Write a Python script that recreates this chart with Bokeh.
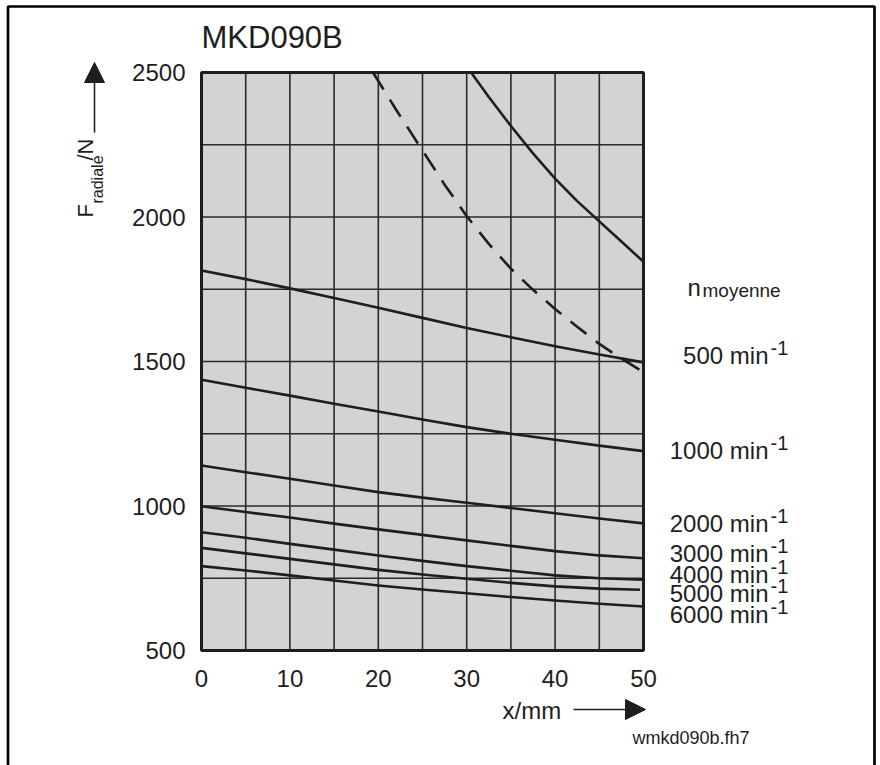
import math
from bokeh.plotting import figure
from bokeh.models import Label, Arrow, NormalHead, BoxAnnotation, FixedTicker, Range1d
from bokeh.embed import file_html
from bokeh.resources import INLINE

# ---------------- data ----------------
x_mm = [0, 5, 10, 15, 20, 25, 30, 35, 40, 45, 50]
f_500 = [1815, 1785, 1753, 1720, 1686, 1651, 1616, 1584, 1553, 1524, 1497]
f_1000 = [1437, 1409, 1382, 1354, 1327, 1299, 1273, 1250, 1229, 1209, 1190]
f_2000 = [1140, 1117, 1094, 1071, 1048, 1029, 1011, 993, 975, 957, 940]
f_3000 = [999, 979, 960, 939, 919, 900, 881, 862, 844, 829, 819]
f_4000 = [909, 890, 869, 849, 829, 810, 792, 776, 760, 750, 745]
x_5000 = [0, 5, 10, 15, 20, 25, 30, 35, 40, 45, 49.6]
f_5000 = [855, 836, 817, 798, 779, 763, 748, 734, 722, 714, 710]
f_6000 = [792, 777, 760, 742, 725, 711, 698, 685, 673, 662, 652]
# shaft limit curves
x_limit = [30.5, 32.5, 35, 37.5, 40, 42.5, 45, 47.5, 50]
f_limit = [2500, 2415, 2315, 2220, 2133, 2055, 1985, 1915, 1845]
x_dash = [19.4, 22, 25, 27.5, 30, 32.5, 35, 37.5, 40, 42.5, 45, 47.5, 50]
f_dash = [2500, 2372, 2230, 2112, 2003, 1907, 1821, 1748, 1682, 1620, 1561, 1510, 1463]

x_min, x_max = 0, 50
y_min, y_max = 500, 2500
x_ticks = [0, 10, 20, 30, 40, 50]
y_ticks = [500, 1000, 1500, 2000, 2500]
x_grid = [5, 10, 15, 20, 25, 30, 35, 40, 45]
y_grid = [750, 1000, 1250, 1500, 1750, 2000, 2250]
speed_labels = ["500 min", "1000 min", "2000 min", "3000 min", "4000 min", "5000 min", "6000 min"]
title_text = "MKD090B"

# ---------------- layout ----------------
W, H = 880, 765
# pixel box of the chart area inside the 880x765 page
PX_L, PX_R, PX_T, PX_B = 201, 643, 72, 650
kx = (x_max - x_min) / (PX_R - PX_L)
ky = (y_max - y_min) / (PX_B - PX_T)
x_range = Range1d(x_min - PX_L * kx, x_max + (W - PX_R) * kx)
y_range = Range1d(y_min - (H - PX_B) * ky, y_max + PX_T * ky)

FONT = "Liberation Sans"
INK = "#1e1e1e"
U = dict(x_units="canvas", y_units="canvas")
DY = -8  # baseline correction for labels

p = figure(width=W, height=H, x_range=x_range, y_range=y_range,
           output_backend="svg", toolbar_location=None, title=None, min_border=0)
p.background_fill_color = "white"
p.border_fill_color = "white"
p.outline_line_color = None
p.grid.visible = False

# grey chart area
p.add_layout(BoxAnnotation(left=x_min, right=x_max, bottom=y_min, top=y_max,
                           fill_color="#d2d3d5", fill_alpha=1, line_color=None, level="image"))

# axes drawn at the chart edges
p.xaxis.fixed_location = y_min
p.yaxis.fixed_location = x_min
for ax in (p.xaxis[0], p.yaxis[0]):
    ax.axis_line_color = None
    ax.major_tick_line_color = None
    ax.minor_tick_line_color = None
    ax.major_tick_in = 0
    ax.major_tick_out = 0
    ax.major_label_text_font = FONT
    ax.major_label_text_font_size = "24px"
    ax.major_label_text_color = INK
p.xaxis.ticker = FixedTicker(ticks=x_ticks)
p.yaxis.ticker = FixedTicker(ticks=y_ticks)
p.xaxis.major_label_standoff = 19
p.yaxis.major_label_standoff = 16

# grid lines inside the chart area
p.segment(x0=x_grid, y0=[y_min] * len(x_grid), x1=x_grid, y1=[y_max] * len(x_grid),
          line_color="#2a2a2a", line_width=1.6)
p.segment(x0=[x_min] * len(y_grid), y0=y_grid, x1=[x_max] * len(y_grid), y1=y_grid,
          line_color="#2a2a2a", line_width=1.6)

for xs, ys in [(x_mm, f_500), (x_mm, f_1000), (x_mm, f_2000), (x_mm, f_3000),
               (x_mm, f_4000), (x_5000, f_5000), (x_mm, f_6000), (x_limit, f_limit)]:
    p.line(xs, ys, line_color=INK, line_width=2.6, line_join="round")
p.line(x_dash, f_dash, line_color=INK, line_width=2.6, line_dash="20 12")

# chart frame
p.add_layout(BoxAnnotation(left=x_min, right=x_max, bottom=y_min, top=y_max,
                           fill_alpha=0, line_color=INK, line_alpha=1, line_width=3))


def lab(txt, x, y, size, align="left", angle=0.0):
    if angle:
        x = x + DY
    else:
        y = y + DY
    p.add_layout(Label(x=x, y=y, text=txt, angle=angle, text_font=FONT, text_font_size=size,
                       text_color=INK, text_align=align, text_baseline="alphabetic", **U))


# title
lab(title_text, 201, 45, "31px")

# y axis label with subscript, rotated
lab("F", 93, 217, "22px", angle=math.pi / 2)
lab("radiale", 105, 203, "16px", angle=math.pi / 2)
lab("/N", 93, 160, "22px", angle=math.pi / 2)
p.add_layout(Arrow(x_start=94, y_start=132, x_end=94, y_end=62,
                   start_units="canvas", end_units="canvas", line_color=INK, line_width=1.6,
                   end=NormalHead(size=20, fill_color=INK, line_color=INK)))

# x axis label + arrow
lab("x/mm", 502, 718, "24px")
p.add_layout(Arrow(x_start=573, y_start=709, x_end=645, y_end=709,
                   start_units="canvas", end_units="canvas", line_color=INK, line_width=1.6,
                   end=NormalHead(size=20, fill_color=INK, line_color=INK)))

# n_moyenne
lab("n", 687, 295, "24px")
lab("moyenne", 702, 298, "19px")

# speed labels
label_baselines = [363, 458, 531, 561, 582, 601, 622]
for txt, yb in zip(speed_labels, label_baselines):
    lab(txt, 768, yb, "24px", align="right")
    lab("-1", 770, yb - 8, "20px")

# file name
lab("wmkd090b.fh7", 632, 745, "18px")

# page border (open at the bottom)
p.add_layout(BoxAnnotation(left=7.5, right=874, top=6, bottom=790,
                           left_units="canvas", right_units="canvas",
                           top_units="canvas", bottom_units="canvas",
                           fill_alpha=0, line_color="black", line_alpha=1, line_width=2.7))

open("out.html", "w").write(file_html(p, INLINE))
